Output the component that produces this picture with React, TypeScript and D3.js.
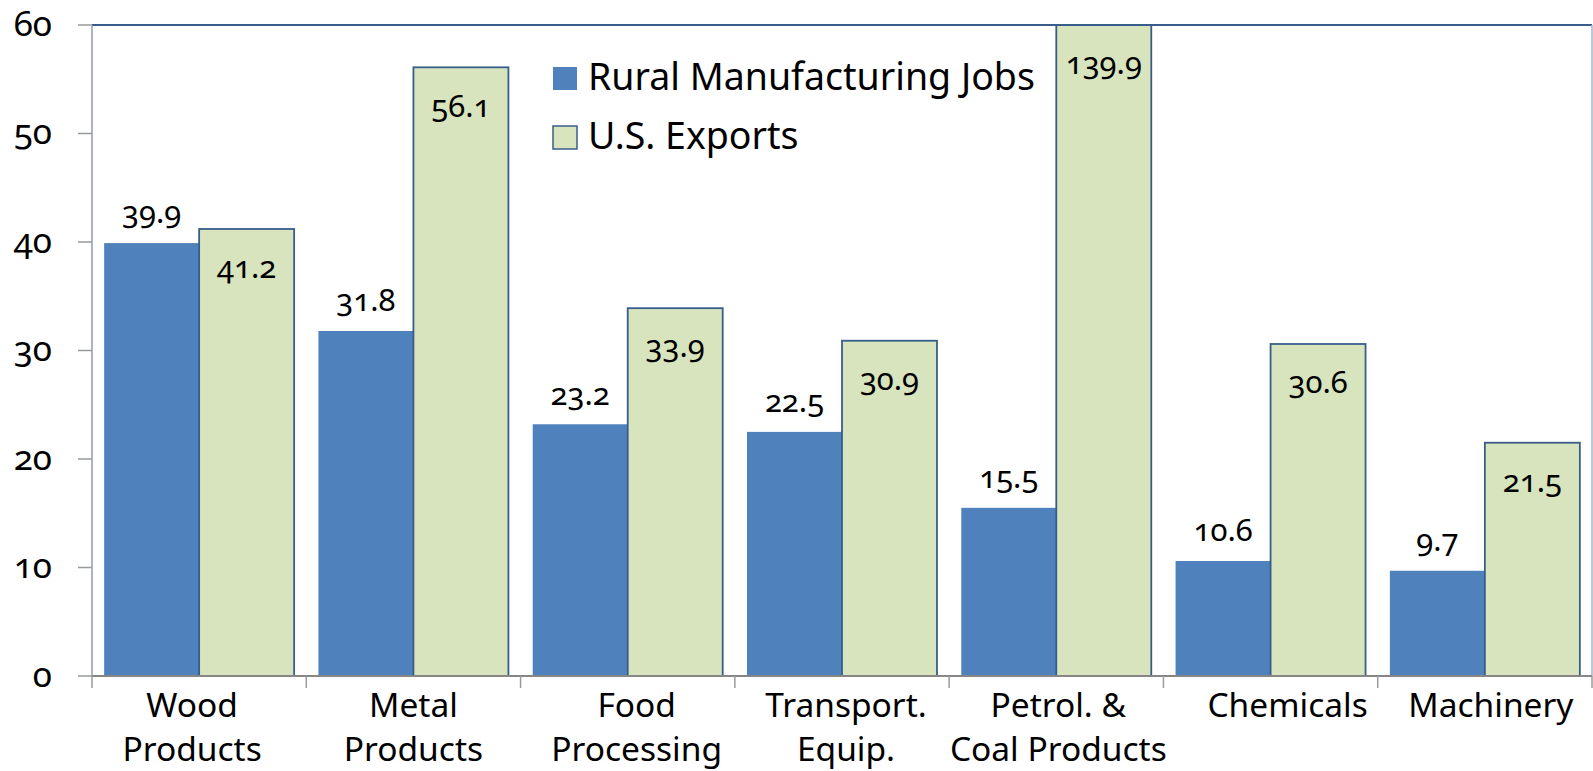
import React, { useEffect, useRef } from "react";
import * as d3 from "d3";

const categories: string[][] = [
  ["Wood", "Products"],
  ["Metal", "Products"],
  ["Food", "Processing"],
  ["Transport.", "Equip."],
  ["Petrol. &", "Coal Products"],
  ["Chemicals"],
  ["Machinery"],
];
const seriesNames = ["Rural Manufacturing Jobs", "U.S. Exports"];
const ruralJobs = [39.9, 31.8, 23.2, 22.5, 15.5, 10.6, 9.7];
const usExports = [41.2, 56.1, 33.9, 30.9, 139.9, 30.6, 21.5];
const yTicks = [0, 10, 20, 30, 40, 50, 60];

const W = 1593;
const H = 771;
const FONT = "'Noto Sans', 'Open Sans', sans-serif";
const BLUE = "#4F81BD";
const GREEN = "#D7E4BD";
const STROKE = "#385D8A";
// small horizontal nudges of the category labels, as laid out in the original
const LABEL_NUDGE = [-7, 0, 9, 4, 2, 17, 6];

export default function App() {
  const ref = useRef<SVGSVGElement>(null);

  useEffect(() => {
    document.body.style.margin = "0";
    const svg = d3.select(ref.current);
    svg.selectAll("*").remove();

    const left = 92, right = 1592, top = 25, bottom = 676;
    const keys = categories.map((c) => c.join(" "));
    const x0 = d3.scaleBand<string>().domain(keys).range([left, right]).padding(0);
    const y = d3.scaleLinear().domain([0, 60]).range([bottom, top]);
    const step = x0.bandwidth();
    const gap = step * 0.1134;
    const barW = (step - gap) / 2;

    svg.append("rect").attr("width", W).attr("height", H).attr("fill", "#fff");

    const defs = svg.append("defs");
    defs.append("clipPath").attr("id", "plotclip")
      .append("rect").attr("x", left).attr("y", top).attr("width", right - left).attr("height", bottom - top);

    const g = svg.append("g").attr("clip-path", "url(#plotclip)");

    g.selectAll("rect.blue").data(ruralJobs).enter().append("rect")
      .attr("x", (_, i) => x0(keys[i])! + gap / 2)
      .attr("y", (d) => y(Math.min(d, 60)))
      .attr("width", barW)
      .attr("height", (d) => bottom - y(Math.min(d, 60)))
      .attr("fill", BLUE);

    g.selectAll("rect.green").data(usExports).enter().append("rect")
      .attr("x", (_, i) => x0(keys[i])! + gap / 2 + barW)
      .attr("y", (d) => y(Math.min(d, 60.5)))
      .attr("width", barW)
      .attr("height", (d) => bottom - y(Math.min(d, 60.5)))
      .attr("fill", GREEN)
      .attr("stroke", STROKE)
      .attr("stroke-width", 1.8);

    svg.append("line").attr("x1", left).attr("x2", right).attr("y1", top).attr("y2", top)
      .attr("stroke", STROKE).attr("stroke-width", 2);
    svg.append("line").attr("x1", right).attr("x2", right).attr("y1", top).attr("y2", bottom)
      .attr("stroke", "#A5B6D0").attr("stroke-width", 1.5);
    svg.append("line").attr("x1", left).attr("x2", left).attr("y1", top).attr("y2", bottom)
      .attr("stroke", "#8A9BB8").attr("stroke-width", 1.5);
    svg.selectAll("line.ytick").data(yTicks).enter().append("line")
      .attr("x1", 78).attr("x2", left).attr("y1", (d) => y(d)).attr("y2", (d) => y(d))
      .attr("stroke", "#9A9A9A").attr("stroke-width", 1.5);
    svg.selectAll("text.ytl").data(yTicks).enter().append("text")
      .attr("x", 52).attr("y", (d) => y(d)).attr("dy", "0.3em")
      .attr("text-anchor", "end")
      .style("font-family", FONT).style("font-size", "35px")
      .style("font-variant-numeric", "oldstyle-nums")
      .attr("fill", "#000").text((d) => String(d));

    svg.append("line").attr("x1", left).attr("x2", right).attr("y1", bottom).attr("y2", bottom)
      .attr("stroke", "#868686").attr("stroke-width", 2);
    const xt = keys.map((k) => x0(k)!).concat([right]);
    svg.selectAll("line.xtick").data(xt).enter().append("line")
      .attr("x1", (d) => d).attr("x2", (d) => d).attr("y1", bottom).attr("y2", bottom + 12)
      .attr("stroke", "#9A9A9A").attr("stroke-width", 1.5);

    categories.forEach((lines, i) => {
      const cx = x0(keys[i])! + step / 2 + LABEL_NUDGE[i];
      lines.forEach((ln, j) => {
        svg.append("text").attr("x", cx).attr("y", 717 + j * 44)
          .attr("text-anchor", "middle")
          .style("font-family", FONT).style("font-size", "33.5px")
          .attr("fill", "#000").text(ln);
      });
    });

    const fmt = d3.format(".1f");
    svg.selectAll("text.lb").data(ruralJobs).enter().append("text")
      .attr("x", (_, i) => x0(keys[i])! + gap / 2 + barW / 2)
      .attr("y", (d) => y(Math.min(d, 60)) - 29)
      .attr("dy", "0.3em")
      .attr("text-anchor", "middle")
      .style("font-family", FONT).style("font-size", "31px")
      .style("font-variant-numeric", "oldstyle-nums")
      .attr("fill", "#000").text((d) => fmt(d));
    svg.selectAll("text.lg").data(usExports).enter().append("text")
      .attr("x", (_, i) => x0(keys[i])! + gap / 2 + barW * 1.5)
      .attr("y", (d) => y(Math.min(d, 60)) + 40)
      .attr("dy", "0.3em")
      .attr("text-anchor", "middle")
      .style("font-family", FONT).style("font-size", "31px")
      .style("font-variant-numeric", "oldstyle-nums")
      .attr("fill", "#000").text((d) => fmt(d));

    const lg = svg.append("g");
    const colors = [BLUE, GREEN];
    seriesNames.forEach((name, i) => {
      const yy = 67 + i * 59;
      lg.append("rect").attr("x", 553).attr("y", yy).attr("width", 24).attr("height", 23)
        .attr("fill", colors[i])
        .attr("stroke", i === 1 ? STROKE : "none").attr("stroke-width", 1.5);
      lg.append("text").attr("x", 588).attr("y", yy + 23)
        .style("font-family", FONT).style("font-size", "37.5px")
        .attr("fill", "#000").text(name);
    });
  }, []);

  return (
    <svg ref={ref} width={W} height={H} style={{ position: "absolute", left: 0, top: 0, display: "block" }} />
  );
}
